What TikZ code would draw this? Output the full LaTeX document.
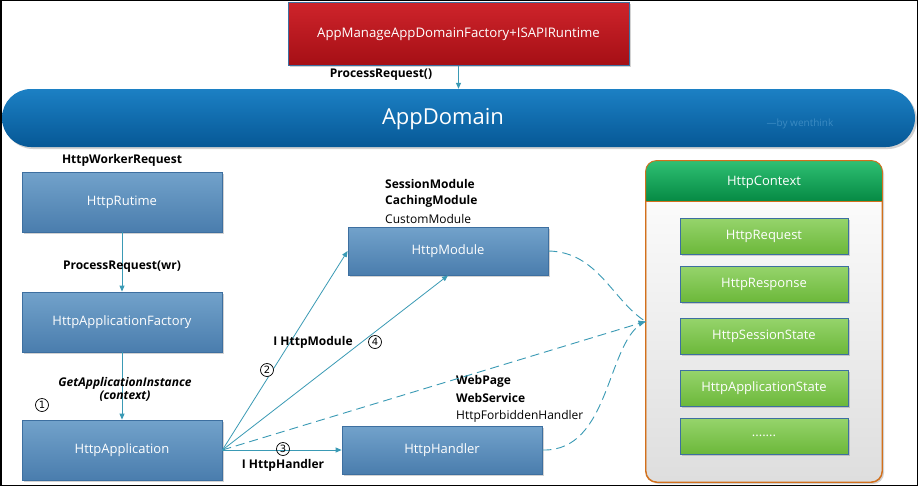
\documentclass[tikz,border=0pt]{standalone}
\usepackage{fontspec}
\setmainfont{Open Sans}
\newfontfamily\symf{DejaVu Sans}
\usetikzlibrary{shadows,arrows.meta}
\definecolor{conn}{HTML}{3A9AB5}
\definecolor{bluetop}{HTML}{72A2CB}
\definecolor{bluebot}{HTML}{4A7DAD}
\definecolor{blueedge}{HTML}{3D6FA0}
\definecolor{redtop}{HTML}{CE242B}
\definecolor{redbot}{HTML}{A50F15}
\definecolor{domtop}{HTML}{1C80C4}
\definecolor{dombot}{HTML}{065896}
\definecolor{grtop}{HTML}{2FC073}
\definecolor{grbot}{HTML}{068A44}
\definecolor{lgtop}{HTML}{96D46C}
\definecolor{lgbot}{HTML}{6CB83A}
\definecolor{orangeedge}{HTML}{D2701C}
\tikzset{
  shd/.style={drop shadow={opacity=0.35,shadow xshift=2pt,shadow yshift=-2pt}},
  bluebox/.style={shd,draw=blueedge,line width=0.8pt,top color=bluetop,bottom color=bluebot,
    text=white,font=\fontsize{13}{15}\selectfont,minimum width=200pt,minimum height=60pt,inner sep=0pt},
  greenbox/.style={shd,draw=blueedge,line width=0.8pt,top color=lgtop,bottom color=lgbot,
    text=white,font=\fontsize{13}{15}\selectfont,minimum width=168pt,minimum height=36pt,inner sep=0pt},
  lbl/.style={font=\bfseries\fontsize{12}{14}\selectfont,text=black,inner sep=1pt},
  lblr/.style={font=\fontsize{12}{14}\selectfont,text=black,inner sep=1pt},
  num/.style={circle,draw=black,line width=0.7pt,minimum size=13pt,inner sep=0pt,
    font=\symf\fontsize{10}{11}\selectfont,text=black},
  connarrow/.style={draw=conn,line width=0.8pt,-{Triangle[length=6pt,width=5pt]}},
  dashconn/.style={draw=conn,line width=0.9pt,dash pattern=on 9pt off 5pt},
}
\begin{document}
\begin{tikzpicture}[x=1pt,y=-1pt]
\useasboundingbox (0,0) rectangle (918,487);
\fill[white] (0,0) rectangle (918,487);
\draw[black,line width=1.5pt] (0.75,0.75) rectangle (917.25,485.5);

% top red box
\node[shd,draw=blueedge,line width=0.8pt,top color=redtop,bottom color=redbot,text=white,
  font=\fontsize{13.2}{15}\selectfont,minimum width=341pt,minimum height=63pt,inner sep=0pt]
  (isapi) at (458.5,34) {AppManageAppDomainFactory+ISAPIRuntime};

% AppDomain capsule
\node[shd,rounded corners=29pt,top color=domtop,bottom color=dombot,minimum width=913pt,
  minimum height=58pt,inner sep=0pt] (dom) at (458.5,118) {};
\node[text=white,font=\fontsize{22}{25}\selectfont,inner sep=0pt] (domtxt) at (443,119) {AppDomain};
\node[text=domtop!70!white,font=\fontsize{10}{11}\selectfont,inner sep=0pt,opacity=0.55] (wm) at (800,124) {—by wenthink};

\draw[connarrow] (isapi.south) -- (isapi.south |- dom.north);
\node[lbl] (prq) at (381,75) {ProcessRequest()};

% left column
\node[bluebox] (rt) at (122,202) {HttpRutime};
\node[bluebox] (fac) at (122,322) {HttpApplicationFactory};
\node[bluebox] (app) at (122,450) {HttpApplication};
\node[lbl] (hwr) at (122,160) {HttpWorkerRequest};
\draw[connarrow] (rt) -- (fac);
\node[lbl] (prwr) at (122,267) {ProcessRequest(wr)};
\draw[connarrow] (fac) -- (app);
\node[lbl,font=\bfseries\itshape\fontsize{12}{14}\selectfont,align=center] (gai) at (125,389)
  {GetApplicationInstance\\[-1pt](context)};
\node[num] (n1) at (42,405) {1};

% module and handler
\node[bluebox,minimum height=48pt] (mod) at (448,251) {HttpModule};
\node[bluebox,minimum height=48pt] (hdl) at (442,450) {HttpHandler};
\node[lbl,anchor=west] (sm) at (384,184) {SessionModule};
\node[lbl,anchor=west] (cm) at (384,201) {CachingModule};
\node[lblr,anchor=west] (cu) at (384,219) {CustomModule};
\node[lbl,anchor=west] (wp) at (455,381) {WebPage};
\node[lbl,anchor=west] (ws) at (455,398) {WebService};
\node[lblr,anchor=west] (fh) at (455,416) {HttpForbiddenHandler};

% HttpContext container
\node[shd,draw=orangeedge,line width=0.9pt,rounded corners=11pt,top color=white,bottom color=black!13,
  minimum width=236pt,minimum height=321pt,inner sep=0pt] (ctx) at (764,321.5) {};
\begin{scope}
  \clip[rounded corners=11pt] (ctx.north west) rectangle (ctx.south east);
  \fill[top color=grtop,bottom color=grbot] (ctx.north west) rectangle ([yshift=-40.5pt]ctx.north east);
\end{scope}
\draw[orangeedge,line width=0.9pt] ([yshift=-40.5pt]ctx.north west) -- ([yshift=-40.5pt]ctx.north east);
\draw[orangeedge,line width=0.9pt,rounded corners=11pt] (ctx.north west) rectangle (ctx.south east);
\node[text=white,font=\fontsize{13}{15}\selectfont,inner sep=0pt] (ctxt) at (764,182) {HttpContext};
\node[greenbox] (req) at (764,236) {HttpRequest};
\node[greenbox] (res) at (764,284) {HttpResponse};
\node[greenbox] (ses) at (764,336) {HttpSessionState};
\node[greenbox] (aps) at (764,388) {HttpApplicationState};
\node[greenbox] (dots) at (764,436) {.......};
\coordinate (ctxin) at (ctx.west);

% connectors from HttpApplication
\draw[connarrow] (app.east) -- (mod.west);
\draw[connarrow] (app.east) -- (mod.south);
\draw[connarrow] (app.east) -- (hdl.west);
\draw[dashconn,-{Triangle[length=7pt,width=6pt]}] (app.east) -- (ctxin);
\draw[dashconn] (mod.east) .. controls (598,252) and (612,300) .. (ctxin);
\draw[dashconn] (hdl.east) .. controls (612,452) and (606,338) .. (ctxin);

\node[lbl] (ihm) at (313,342) {I HttpModule};
\node[num] (n4) at (375,342) {4};
\node[num,fill=white] (n2) at (267,370) {2};
\node[num] (n3) at (283,449) {3};
\node[lbl] (ihh) at (283,465) {I HttpHandler};
\end{tikzpicture}
\end{document}
